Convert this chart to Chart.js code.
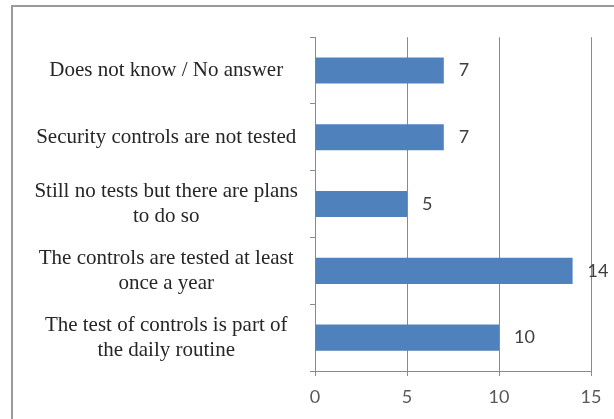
<!DOCTYPE html>
<html>
<head>
<meta charset="utf-8">
<script src="https://cdn.jsdelivr.net/npm/chart.js@4"></script>
<style>
    html, body { margin: 0; padding: 0; background: #fff; }
    #testChart { display: block; }
</style>
</head>
<body>
<canvas id="testChart" width="614" height="419"></canvas>
<script>
// answers, top to bottom
const categories = [
    "Does not know / No answer",
    "Security controls are not tested",
    ["Still no tests but there are plans", "to do so"],
    ["The controls are tested at least", "once a year"],
    ["The test of controls is part of", "the daily routine"]
];
const counts = [7, 7, 5, 14, 10];
const xTicks = [0, 5, 10, 15];

const lineColor = "#8a8a8a";

// grey frame round the whole figure
const framePlugin = {
    id: "frame",
    beforeDraw(chart) {
        const ctx = chart.ctx;
        ctx.save();
        ctx.strokeStyle = "#9a9a9a";
        ctx.lineWidth = 2;
        ctx.strokeRect(12, 6, 700, 500);
        ctx.restore();
    }
};

// value written just past the end of each bar
const valueLabels = {
    id: "valueLabels",
    afterDatasetsDraw(chart) {
        const ctx = chart.ctx;
        const meta = chart.getDatasetMeta(0);
        ctx.save();
        ctx.font = "18px Lato";
        ctx.fillStyle = "#404040";
        ctx.textAlign = "left";
        ctx.textBaseline = "middle";
        meta.data.forEach((bar, i) => {
            ctx.fillText(counts[i], bar.x + 15, bar.y);
        });
        ctx.restore();
    }
};

const ctx = document.getElementById("testChart").getContext("2d");

new Chart(ctx, {
    type: "bar",
    data: {
        labels: categories,
        datasets: [{
            data: counts,
            backgroundColor: "#4f81bd",
            categoryPercentage: 1,
            barPercentage: 0.39
        }]
    },
    options: {
        indexAxis: "y",
        responsive: false,
        devicePixelRatio: 1,
        animation: false,
        layout: {
            padding: { left: 0, top: 34, right: 23, bottom: 0 }
        },
        plugins: {
            legend: { display: false },
            tooltip: { enabled: false }
        },
        scales: {
            x: {
                min: 0,
                max: 15,
                afterBuildTicks: scale => {
                    scale.ticks = xTicks.map(v => ({ value: v }));
                },
                afterFit: scale => { scale.height = 48; },
                ticks: {
                    color: "#595959",
                    font: { family: "Lato", size: 18 },
                    padding: 10
                },
                grid: {
                    color: lineColor,
                    lineWidth: 1,
                    drawTicks: true,
                    tickLength: 5
                },
                border: { display: true, color: lineColor }
            },
            y: {
                afterFit: scale => { scale.width = 315; },
                ticks: {
                    color: "#262626",
                    font: { family: "Liberation Serif", size: 21, lineHeight: 1.2 },
                    crossAlign: "center",
                    padding: 12
                },
                grid: {
                    offset: true,
                    drawOnChartArea: false,
                    drawTicks: true,
                    tickLength: 5,
                    color: lineColor
                },
                border: { display: true, color: lineColor }
            }
        }
    },
    plugins: [framePlugin, valueLabels]
});
</script>
</body>
</html>
